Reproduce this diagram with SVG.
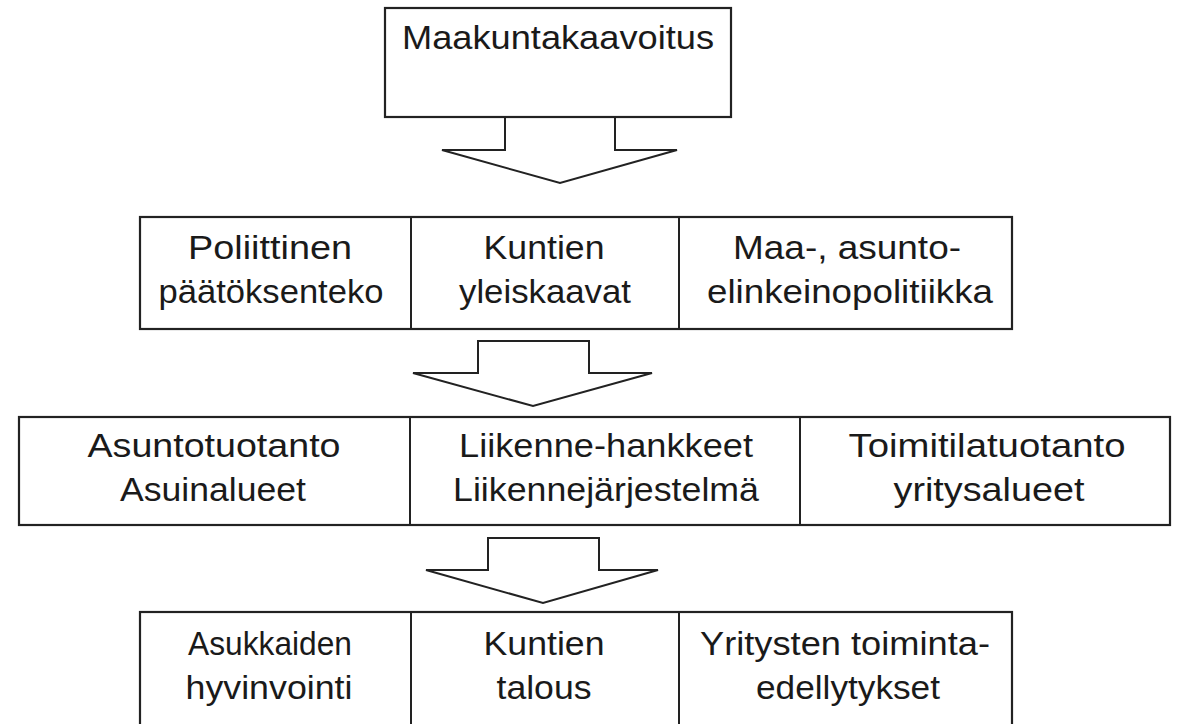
<svg xmlns="http://www.w3.org/2000/svg" width="1184" height="724" viewBox="0 0 1184 724">
<style>
.box{fill:#fff;stroke:#222;stroke-width:2.2}
.div{stroke:#222;stroke-width:2}
.arr{fill:#fff;stroke:#222;stroke-width:2;stroke-linejoin:miter}
text{font-family:"Liberation Sans",Arial,sans-serif;font-size:33px;fill:#1a1a1a;text-anchor:middle}
</style>
<rect width="1184" height="724" fill="#fff"/>
<g id="connectors">
<path class="arr" d="M505,117 V150 H442 L560,183 L677,150 H615 V117"/>
<path class="arr" d="M478,341 H589 V373 H652 L533,406 L413,373 H478 Z"/>
<path class="arr" d="M488,538 H599 V570 H658 L543,603 L426,570 H488 Z"/>
</g>
<g id="maakuntakaavoitus">
<rect class="box" x="385" y="8" width="346" height="109"/>
<text x="558" y="49" textLength="312" lengthAdjust="spacingAndGlyphs">Maakuntakaavoitus</text>
</g>
<g id="row2">
<rect class="box" x="140" y="217" width="872" height="112"/>
<line class="div" x1="411" y1="217" x2="411" y2="329"/>
<line class="div" x1="679" y1="217" x2="679" y2="329"/>
<g id="poliittinen">
<text x="270" y="259" textLength="164" lengthAdjust="spacingAndGlyphs">Poliittinen</text>
<text x="271" y="303" textLength="225" lengthAdjust="spacingAndGlyphs">päätöksenteko</text>
</g>
<g id="yleiskaavat">
<text x="544" y="259" textLength="121" lengthAdjust="spacingAndGlyphs">Kuntien</text>
<text x="545" y="303" textLength="172" lengthAdjust="spacingAndGlyphs">yleiskaavat</text>
</g>
<g id="politiikka">
<text x="847" y="259" textLength="228" lengthAdjust="spacingAndGlyphs">Maa-, asunto-</text>
<text x="850" y="303" textLength="286" lengthAdjust="spacingAndGlyphs">elinkeinopolitiikka</text>
</g>
</g>
<g id="row3">
<rect class="box" x="19" y="417" width="1151" height="108"/>
<line class="div" x1="410" y1="417" x2="410" y2="525"/>
<line class="div" x1="800" y1="417" x2="800" y2="525"/>
<g id="asuntotuotanto">
<text x="214" y="457" textLength="253" lengthAdjust="spacingAndGlyphs">Asuntotuotanto</text>
<text x="213" y="501" textLength="186" lengthAdjust="spacingAndGlyphs">Asuinalueet</text>
</g>
<g id="liikenne">
<text x="606" y="457" textLength="294" lengthAdjust="spacingAndGlyphs">Liikenne-hankkeet</text>
<text x="606" y="501" textLength="306" lengthAdjust="spacingAndGlyphs">Liikennejärjestelmä</text>
</g>
<g id="toimitila">
<text x="987" y="457" textLength="277" lengthAdjust="spacingAndGlyphs">Toimitilatuotanto</text>
<text x="989" y="501" textLength="191" lengthAdjust="spacingAndGlyphs">yritysalueet</text>
</g>
</g>
<g id="row4">
<rect class="box" x="140" y="612" width="872" height="130"/>
<line class="div" x1="411" y1="612" x2="411" y2="724"/>
<line class="div" x1="679" y1="612" x2="679" y2="724"/>
<g id="asukkaiden">
<text x="270" y="655" textLength="164" lengthAdjust="spacingAndGlyphs">Asukkaiden</text>
<text x="269" y="699" textLength="167" lengthAdjust="spacingAndGlyphs">hyvinvointi</text>
</g>
<g id="talous">
<text x="544" y="655" textLength="121" lengthAdjust="spacingAndGlyphs">Kuntien</text>
<text x="544" y="699" textLength="95" lengthAdjust="spacingAndGlyphs">talous</text>
</g>
<g id="yritysten">
<text x="845" y="655" textLength="290" lengthAdjust="spacingAndGlyphs">Yritysten toiminta-</text>
<text x="848" y="699" textLength="184" lengthAdjust="spacingAndGlyphs">edellytykset</text>
</g>
</g>
</svg>
